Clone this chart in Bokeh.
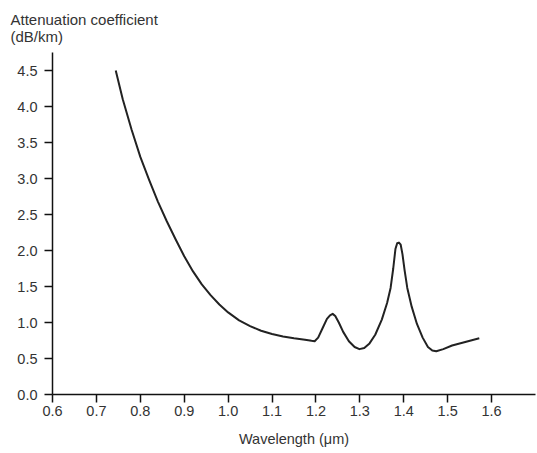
from bokeh.plotting import figure
from bokeh.models import Range1d, FixedTicker, NumeralTickFormatter
from bokeh.embed import file_html
from bokeh.resources import INLINE

# Data
wavelength = [0.744, 0.76, 0.78, 0.80, 0.82, 0.84, 0.86, 0.88, 0.90, 0.92,
              0.94, 0.96, 0.98, 1.00, 1.025, 1.05, 1.075, 1.10, 1.125, 1.15,
              1.175, 1.19, 1.197, 1.205, 1.215, 1.225, 1.232, 1.238, 1.244, 1.252,
              1.262, 1.275, 1.288, 1.299, 1.31, 1.322, 1.335, 1.35, 1.362, 1.37,
              1.376, 1.381, 1.385, 1.389, 1.393, 1.397, 1.402, 1.408, 1.418, 1.43,
              1.443, 1.455, 1.465, 1.474, 1.49, 1.51, 1.54, 1.572]
attenuation = [4.5, 4.1, 3.68, 3.30, 2.98, 2.68, 2.41, 2.16, 1.92, 1.71,
               1.53, 1.38, 1.25, 1.14, 1.03, 0.95, 0.885, 0.84, 0.805, 0.78,
               0.76, 0.745, 0.74, 0.79, 0.92, 1.05, 1.10, 1.12, 1.09, 1.00,
               0.87, 0.74, 0.66, 0.63, 0.645, 0.71, 0.83, 1.04, 1.27, 1.48,
               1.75, 2.02, 2.10, 2.11, 2.08, 1.95, 1.72, 1.48, 1.22, 0.98,
               0.79, 0.66, 0.61, 0.60, 0.63, 0.68, 0.73, 0.78]
x_ticks = [0.6, 0.7, 0.8, 0.9, 1.0, 1.1, 1.2, 1.3, 1.4, 1.5, 1.6]
y_ticks = [0.0, 0.5, 1.0, 1.5, 2.0, 2.5, 3.0, 3.5, 4.0, 4.5]

FONT = "Liberation Sans"
TXT = "#333333"

p = figure(width=537, height=453, output_backend="svg", toolbar_location=None,
           x_range=Range1d(0.6, 1.7), y_range=Range1d(0, 4.75),
           min_border_left=52, min_border_right=2, min_border_top=52, min_border_bottom=59)
p.outline_line_color = None
p.grid.grid_line_color = None
p.background_fill_color = "white"
p.border_fill_color = "white"

p.line(wavelength, attenuation, line_color="#222222", line_width=2, line_join="round")

for ax in (p.xaxis[0], p.yaxis[0]):
    ax.axis_line_color = "#111111"
    ax.axis_line_width = 1.5
    ax.major_tick_line_color = "#111111"
    ax.major_tick_line_width = 1.5
    ax.major_tick_out = 8
    ax.major_tick_in = 0
    ax.minor_tick_line_color = None
    ax.major_label_text_font = FONT
    ax.major_label_text_font_size = "14.5px"
    ax.major_label_text_color = TXT
    ax.formatter = NumeralTickFormatter(format="0.0")

p.xaxis[0].ticker = FixedTicker(ticks=x_ticks)
p.yaxis[0].ticker = FixedTicker(ticks=y_ticks)
p.xaxis[0].major_label_standoff = 3
p.yaxis[0].major_label_standoff = 7
p.xaxis[0].axis_label = "Wavelength (μm)"
p.xaxis[0].axis_label_text_font = FONT
p.xaxis[0].axis_label_text_font_size = "14.5px"
p.xaxis[0].axis_label_text_font_style = "normal"
p.xaxis[0].axis_label_text_color = TXT
p.xaxis[0].axis_label_standoff = 12

p.title.text = "Attenuation coefficient\n(dB/km)"
p.title.align = "left"
p.title.offset = -42
p.title.standoff = 16
p.title.text_font = FONT
p.title.text_font_size = "15px"
p.title.text_line_height = 1.0
p.title.text_font_style = "normal"
p.title.text_color = TXT

open("out.html", "w").write(file_html(p, INLINE))
